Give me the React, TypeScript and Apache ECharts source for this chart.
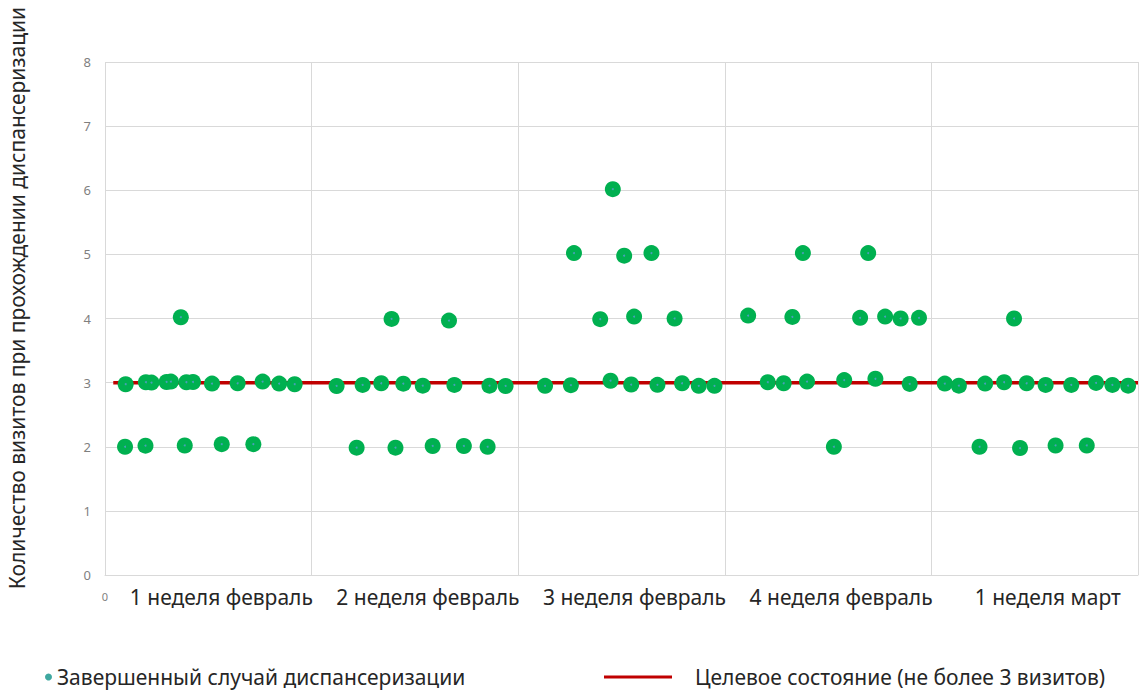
import React, { useEffect, useRef } from "react";
import * as echarts from "echarts";

const weekLabels = [
  "1 неделя февраль",
  "2 неделя февраль",
  "3 неделя февраль",
  "4 неделя февраль",
  "1 неделя март",
];
const yTicks = [0, 1, 2, 3, 4, 5, 6, 7, 8];

const seriesPointsName = "Завершенный случай диспансеризации";
const seriesTargetName = "Целевое состояние (не более 3 визитов)";

// position along the time axis (0..5, one unit per week) and number of visits
const visitX = [
  0.1, 0.198, 0.225, 0.298, 0.319, 0.394, 0.426, 0.518, 0.642, 0.763, 0.843, 0.918,
  0.367, 0.097, 0.196, 0.386, 0.565, 0.718,
  1.121, 1.247, 1.337, 1.444, 1.538, 1.691, 1.861, 1.939, 1.387, 1.665,
  1.218, 1.406, 1.586, 1.737, 1.852,
  2.458, 2.27, 2.513, 2.645, 2.397, 2.561, 2.757,
  2.13, 2.255, 2.447, 2.547, 2.674, 2.793, 2.874, 2.95,
  3.378, 3.694, 3.113, 3.327, 3.655, 3.776, 3.851, 3.94,
  3.208, 3.285, 3.398, 3.578, 3.729, 3.895, 3.528,
  4.4, 4.065, 4.133, 4.26, 4.352, 4.461, 4.553, 4.677, 4.797, 4.876, 4.952,
  4.233, 4.429, 4.601, 4.752,
];
const visitY = [
  2.975, 3.006, 3.0, 3.01, 3.016, 3.006, 3.01, 2.985, 2.99, 3.016, 2.985, 2.975,
  4.02, 2.0, 2.017, 2.02, 2.04, 2.04,
  2.948, 2.964, 2.99, 2.984, 2.953, 2.964, 2.953, 2.948, 3.994, 3.967,
  1.986, 1.986, 2.012, 2.012, 2.0,
  6.017, 5.02, 4.98, 5.02, 3.99, 4.03, 4.0,
  2.95, 2.96, 3.03, 2.97, 2.965, 2.99, 2.95, 2.95,
  5.02, 5.02, 4.045, 4.025, 4.01, 4.03, 4.0, 4.01,
  3.006, 2.99, 3.016, 3.04, 3.06, 2.98, 2.0,
  4.0, 2.985, 2.953, 2.985, 3.006, 2.99, 2.964, 2.964, 2.995, 2.964, 2.953,
  2.0, 1.98, 2.02, 2.02,
];
const targetX = [0.04, 5];
const targetY = [3, 3];

const FONT = "'Noto Sans', sans-serif";

export default function App() {
  const ref = useRef<HTMLDivElement>(null);
  useEffect(() => {
    if (!ref.current) return;
    const chart = echarts.init(ref.current, undefined, { renderer: "svg" });
    const points = visitX.map((x, i) => [x, visitY[i]]);
    const target = targetX.map((x, i) => [x, targetY[i]]);
    chart.setOption({
      animation: false,
      backgroundColor: "#ffffff",
      textStyle: { fontFamily: FONT },
      grid: { left: 105, right: 0, top: 62, bottom: 116, containLabel: false },
      xAxis: [
        {
          type: "value",
          min: 0,
          max: weekLabels.length,
          interval: 1,
          axisLine: { show: true, lineStyle: { color: "#d9d9d9", width: 1 } },
          axisTick: { show: false },
          splitLine: { show: true, lineStyle: { color: "#d9d9d9", width: 1 } },
          axisLabel: {
            formatter: (v: number) => (v === 0 ? "0" : ""),
            color: "#7f7f7f",
            fontSize: 11,
            margin: 16,
            fontFamily: FONT,
          },
        },
        {
          type: "category",
          position: "bottom",
          data: weekLabels,
          boundaryGap: true,
          axisLine: { show: false },
          axisTick: { show: false },
          splitLine: { show: false },
          axisLabel: {
            interval: 0,
            color: "#262626",
            fontSize: 21,
            margin: 11,
            padding: [0, 0, 0, 26],
            fontFamily: FONT,
          },
        },
      ],
      yAxis: {
        type: "value",
        min: yTicks[0],
        max: yTicks[yTicks.length - 1],
        interval: 1,
        axisLine: { show: false },
        axisTick: { show: false },
        splitLine: { show: true, lineStyle: { color: "#d9d9d9", width: 1 } },
        axisLabel: { color: "#7f7f7f", fontSize: 13, margin: 14, fontFamily: FONT },
      },
      legend: [
        {
          left: 45,
          top: 666,
          padding: 0,
          itemWidth: 7,
          itemHeight: 7,
          icon: "circle",
          data: [{ name: seriesPointsName, itemStyle: { color: "#3fa8a0" } }],
          textStyle: { fontSize: 21, color: "#262626", fontFamily: FONT, lineHeight: 22 },
        },
        {
          left: 604,
          top: 666,
          padding: 0,
          itemWidth: 68,
          itemHeight: 3,
          icon: "rect",
          data: [{ name: seriesTargetName, itemStyle: { color: "#c00000" } }],
          textStyle: {
            fontSize: 21,
            color: "#262626",
            fontFamily: FONT,
            lineHeight: 22,
            padding: [0, 0, 0, 18],
          },
        },
      ],
      graphic: [
        {
          type: "text",
          x: 17,
          y: 298,
          rotation: Math.PI / 2,
          style: {
            text: "Количество визитов при прохождении диспансеризации",
            fontSize: 21,
            fontFamily: FONT,
            fill: "#262626",
            align: "center",
            verticalAlign: "middle",
          },
        },
      ],
      series: [
        {
          name: seriesTargetName,
          type: "line",
          data: target,
          symbol: "none",
          lineStyle: { color: "#c00000", width: 3.5 },
          itemStyle: { color: "#c00000" },
          z: 2,
        },
        {
          name: seriesPointsName,
          type: "scatter",
          data: points,
          symbol: "circle",
          symbolSize: 16,
          itemStyle: { color: "#00b050", opacity: 1 },
          z: 3,
        },
        {
          name: "centre",
          type: "scatter",
          data: points,
          symbol: "circle",
          symbolSize: 2,
          silent: true,
          itemStyle: { color: "#5b9bd5", opacity: 0.8 },
          z: 4,
        },
      ],
    });
    return () => chart.dispose();
  }, []);
  return (
    <div
      ref={ref}
      style={{ position: "fixed", left: 0, top: 0, width: 1141, height: 691, background: "#fff" }}
    />
  );
}
